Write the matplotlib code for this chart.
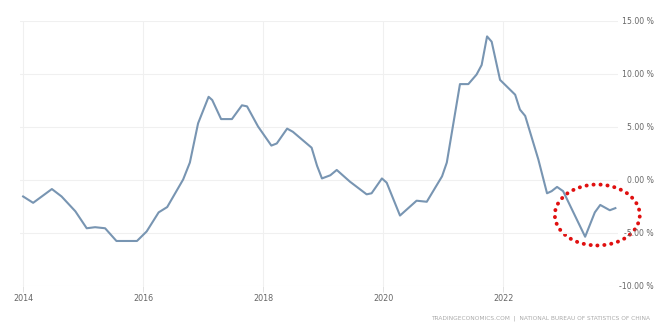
import pandas as pd
import matplotlib
matplotlib.use("Agg")
import matplotlib.pyplot as plt
import matplotlib.dates as mdates
from matplotlib.patches import Ellipse

# PPI year-on-year, %
dates = [
    "2014-01-01", "2014-03-03", "2014-06-25", "2014-08-23", "2014-11-15",
    "2015-01-23", "2015-03-15", "2015-05-15", "2015-07-23", "2015-11-25",
    "2016-01-23", "2016-04-05", "2016-05-27", "2016-09-01", "2016-10-12",
    "2016-12-01", "2017-02-03", "2017-02-25", "2017-04-20", "2017-06-25",
    "2017-08-25", "2017-09-25", "2017-12-01", "2018-02-20", "2018-03-25",
    "2018-05-27", "2018-07-01", "2018-10-23", "2018-11-25", "2018-12-25",
    "2019-02-14", "2019-03-25", "2019-06-13", "2019-09-23", "2019-10-23",
    "2019-12-25", "2020-01-23", "2020-04-13", "2020-07-23", "2020-09-23",
    "2020-12-25", "2021-01-23", "2021-04-13", "2021-06-03", "2021-07-23",
    "2021-08-23", "2021-09-25", "2021-10-23", "2021-12-13", "2022-03-15",
    "2022-04-13", "2022-05-15", "2022-08-03", "2022-09-25", "2022-10-23",
    "2022-11-25", "2023-01-01", "2023-05-15", "2023-07-13", "2023-08-15",
    "2023-10-12", "2023-11-15",
]
values = [
    -1.6, -2.2, -0.9, -1.6, -3.0,
    -4.6, -4.5, -4.6, -5.8, -5.8,
    -4.9, -3.1, -2.6, 0.0, 1.6,
    5.3, 7.8, 7.5, 5.7, 5.7,
    7.0, 6.9, 5.0, 3.2, 3.4,
    4.8, 4.5, 3.0, 1.3, 0.1,
    0.4, 0.9, -0.2, -1.4, -1.3,
    0.1, -0.3, -3.4, -2.0, -2.1,
    0.3, 1.6, 9.0, 9.0, 9.9,
    10.8, 13.5, 13.0, 9.4, 8.0,
    6.6, 6.0, 1.9, -1.3, -1.1,
    -0.7, -1.1, -5.4, -3.1, -2.4,
    -2.9, -2.7,
]
year_ticks = [2014, 2016, 2018, 2020, 2022]
y_ticks = [-10, -5, 0, 5, 10, 15]
source = "TRADINGECONOMICS.COM  |  NATIONAL BUREAU OF STATISTICS OF CHINA"

x = pd.to_datetime(dates)

fig = plt.figure(figsize=(6.57, 3.23), dpi=100)
ax = fig.add_axes([20 / 657, 37.5 / 323, 598 / 657, 265 / 323])

ax.plot(x, values, color="#7895b2", lw=1.5, solid_joinstyle="round")

ax.set_ylim(-10, 15)
ax.set_xlim(pd.Timestamp("2013-12-13"), pd.Timestamp("2023-12-01"))

ax.set_xticks([pd.Timestamp(f"{y}-01-01") for y in year_ticks])
ax.xaxis.set_major_formatter(mdates.DateFormatter("%Y"))
ax.set_yticks(y_ticks)
ax.set_yticklabels([f"{v:.2f} %" for v in y_ticks])

ax.yaxis.tick_right()
ax.tick_params(axis="y", length=0, pad=26, labelsize=5.6, labelcolor="#666666")
for lbl in ax.get_yticklabels():
    lbl.set_horizontalalignment("right")
ax.tick_params(axis="x", length=4, width=0.6, color="#dddddd", pad=2,
               labelsize=5.8, labelcolor="#666666")

ax.grid(True, color="#f0f0f0", lw=0.8)
for s in ax.spines.values():
    s.set_visible(False)

# red dotted ring around the latest dip
cx = mdates.date2num(pd.Timestamp("2023-07-28"))
ring = Ellipse((cx, -3.35), width=517, height=5.75, fill=False,
               edgecolor="#e01010", lw=2.8, linestyle=(0, (0.05, 1.75)),
               capstyle="round", clip_on=False)
ax.add_patch(ring)

fig.text(650 / 657, 5 / 323, source, ha="right", va="center",
         fontsize=4.2, color="#aaaaaa")

fig.savefig("out.png", dpi=100)
